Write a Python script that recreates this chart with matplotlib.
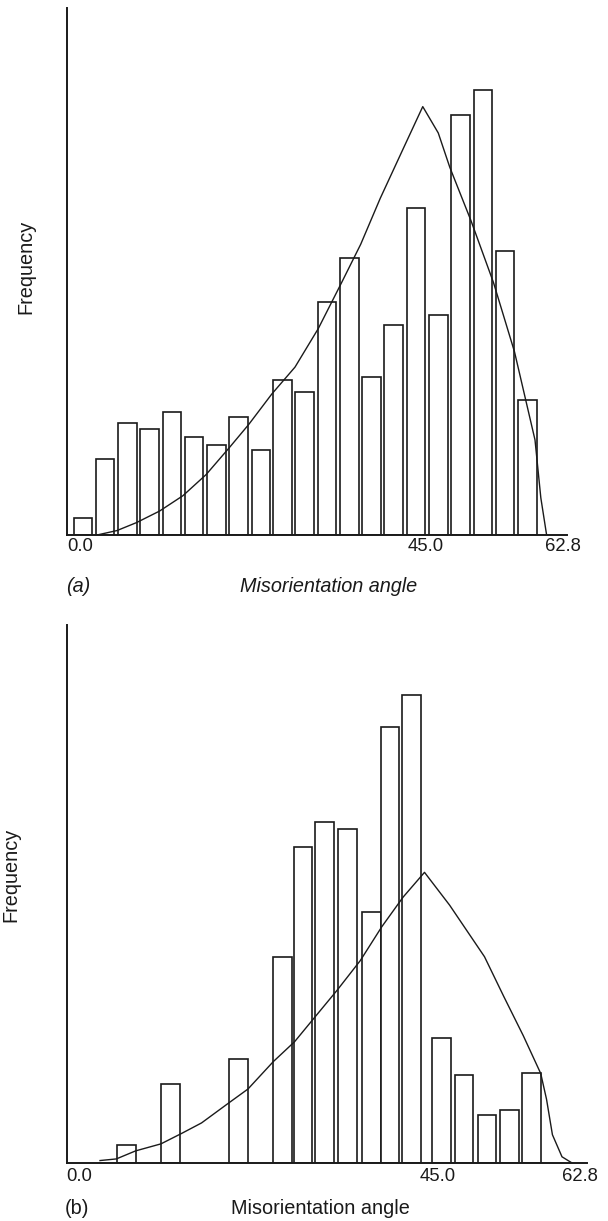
import matplotlib.pyplot as plt

plt.rcParams['font.family'] = ['Liberation Sans', 'DejaVu Sans']

# (a) bin centres (deg) and bar heights (% of axis height)
centros_a = [0.3, 3.2, 6.1, 9.0, 11.9, 14.8, 17.7, 20.6, 23.5, 26.3, 29.2,
             32.1, 35.0, 37.9, 40.8, 43.7, 46.6, 49.5, 52.4, 55.3, 58.2]
freq_a = [3.2, 14.5, 21.3, 20.1, 23.4, 18.6, 17.1, 22.4, 16.2, 29.4, 27.2,
          44.3, 52.5, 30.0, 39.9, 62.1, 41.7, 79.8, 84.4, 54.0, 25.6]
# (a) fitted curve
curva_a_x = [1.98, 4.75, 7.28, 10.3, 13.33, 16.35, 19.37, 21.9, 24.92, 27.94, 30.97,
             34.0, 36.5, 39.04, 42.06, 44.58, 46.6, 48.1, 50.88, 53.8, 56.53,
             59.2, 59.96, 60.72]
curva_a_y = [0.0, 0.9, 2.4, 4.6, 7.5, 11.5, 16.6, 21.0, 26.8, 31.9, 39.2,
             47.9, 55.2, 63.9, 73.4, 81.3, 76.3, 69.8, 59.6, 47.9, 34.8,
             18.1, 7.1, 0.0]

# (b)
centros_b = [5.95, 11.49, 20.05, 25.55, 28.1, 30.8, 33.66, 36.69, 39.0, 41.72,
             45.48, 48.3, 51.2, 54.0, 56.8]
freq_b = [3.2, 14.6, 19.3, 38.2, 58.7, 63.4, 62.0, 46.7, 81.1, 87.0,
          23.1, 16.3, 8.8, 9.8, 16.6]
curva_b_x = [2.64, 4.68, 7.11, 10.28, 12.95, 15.38, 18.78, 21.2, 24.38, 27.05,
             29.72, 32.4, 35.3, 38.0, 40.67, 43.35, 46.5, 50.88, 53.3, 55.75,
             57.93, 58.66, 59.4, 60.6, 61.8]
curva_b_y = [0.4, 0.7, 2.2, 3.5, 5.5, 7.4, 11.1, 13.7, 18.8, 22.5,
             27.3, 32.1, 37.6, 43.9, 49.4, 54.0, 47.9, 38.3, 30.9, 23.6,
             16.6, 11.8, 5.2, 1.1, 0.0]

ticks = [0.0, 45.0, 62.8]
tick_labels = ['0.0', '45.0', '62.8']

W, H = 608, 1221
fig = plt.figure(figsize=(W / 100, H / 100), dpi=100)
cor = '#1a1a1a'
fs_label = 14.3


def cria_painel(rect, centros, freq, largura, cx, cy, xlim, pad):
    ax = fig.add_axes(rect)
    ax.bar(centros, freq, width=largura, facecolor='white', edgecolor=cor,
           linewidth=1.2, zorder=2)
    ax.plot(cx, cy, color=cor, linewidth=1.0, zorder=3)
    ax.set_xlim(*xlim)
    ax.set_ylim(0, 100)
    for s in ['top', 'right']:
        ax.spines[s].set_visible(False)
    for s in ['left', 'bottom']:
        ax.spines[s].set_linewidth(1.4)
        ax.spines[s].set_color(cor)
    ax.set_yticks([])
    ax.set_xticks(ticks)
    ax.set_xticklabels(tick_labels, fontsize=13.3)
    ax.tick_params(axis='x', length=0, pad=pad, colors=cor)
    return ax


def px(x0, y0, x1, y1):
    return [x0 / W, 1 - y1 / H, (x1 - x0) / W, (y1 - y0) / H]


cria_painel(px(66.7, 8, 566.7, 535.3), centros_a, freq_a, 2.42,
            curva_a_x, curva_a_y, (-1.80, 63.33), 2.0)
cria_painel(px(66.7, 625, 586.7, 1162.7), centros_b, freq_b, 2.33,
            curva_b_x, curva_b_y, (-1.54, 63.7), 3.5)

# labels
fig.text(66 / W, 1 - 586 / H, '(a)', fontsize=fs_label, style='italic', va='center', color=cor)
fig.text(328.5 / W, 1 - 586 / H, 'Misorientation angle', fontsize=fs_label, style='italic',
         ha='center', va='center', color=cor)
fig.text(65 / W, 1 - 1208 / H, '(b)', fontsize=fs_label, va='center', color=cor)
fig.text(320.8 / W, 1 - 1208 / H, 'Misorientation angle', fontsize=fs_label,
         ha='center', va='center', color=cor)
fig.text(26 / W, 1 - 267 / H, 'Frequency', fontsize=fs_label, rotation=90,
         ha='center', va='center', color=cor)
fig.text(11 / W, 1 - 875 / H, 'Frequency', fontsize=fs_label, rotation=90,
         ha='center', va='center', color=cor)

plt.savefig('out.png', dpi=100)
plt.close()
